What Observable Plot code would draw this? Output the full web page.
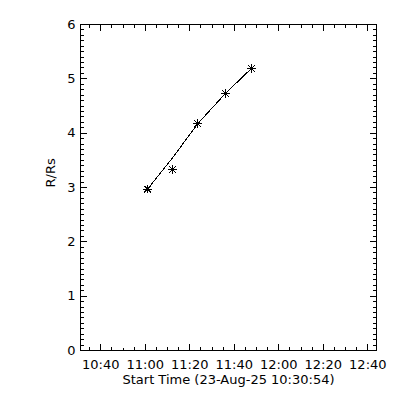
<!DOCTYPE html>
<html>
<head>
<meta charset="utf-8">
<script src="https://cdn.jsdelivr.net/npm/d3@7"></script>
<script src="https://cdn.jsdelivr.net/npm/@observablehq/plot@0.6"></script>
<style>
  html, body { margin: 0; padding: 0; background: white; }
  #chart { width: 400px; height: 400px; }
</style>
</head>
<body>
<div id="chart"></div>
<script>
// ---- data ----
const day = "2025-08-23";
const startTime = "10:30:54";
const endTime = "12:43:54";
const times = ["11:01:00", "11:12:20", "11:23:30", "11:36:00", "11:47:40"];
const heights = [2.97, 3.33, 4.18, 4.73, 5.19];      // R/Rs (asterisks)
const fitHeights = [2.97, 3.55, 4.17, 4.73, 5.19];   // fitted line
const xTickLabels = ["10:40", "11:00", "11:20", "11:40", "12:00", "12:20", "12:40"];
const yTicks = [0, 1, 2, 3, 4, 5, 6];
const xTitle = "Start Time (23-Aug-25 10:30:54)";
const yTitle = "R/Rs";

// ---- build ----
const toDate = t => new Date(`${day}T${t}Z`);
const x0 = toDate(startTime), x1 = toDate(endTime);
const points = times.map((t, i) => ({t: toDate(t), r: heights[i], f: fitHeights[i]}));
const xMajor = xTickLabels.map(toDate);
const xMinor = d3.utcMinute.every(5).range(x0, x1);
const yMinor = d3.range(0, 60.5, 1).map(v => v / 10);
const fmt = d3.utcFormat("%H:%M");
const crisp = "crispEdges";

// IDL style asterisk (psym=2)
const asterisk = {
  draw(ctx, size) {
    const s = Math.sqrt(size / Math.PI);
    const d = s * 0.75;
    ctx.moveTo(-s, 0); ctx.lineTo(s, 0);
    ctx.moveTo(0, -s); ctx.lineTo(0, s);
    ctx.moveTo(-d, -d); ctx.lineTo(d, d);
    ctx.moveTo(-d, d); ctx.lineTo(d, -d);
  }
};

// inward tick shapes for Plot.vector
const shapeUp = {draw(c, l) { c.moveTo(0, 0); c.lineTo(0, -l); }};
const shapeDown = {draw(c, l) { c.moveTo(0, 0); c.lineTo(0, l); }};
const shapeRight = {draw(c, l) { c.moveTo(0, 0); c.lineTo(l, 0); }};
const shapeLeft = {draw(c, l) { c.moveTo(0, 0); c.lineTo(-l, 0); }};
const ticksX = (data, edge, len) => Plot.vector(data, {
  x: d => d, frameAnchor: edge, length: len, anchor: "start", rotate: 0,
  shape: edge === "bottom" ? shapeUp : shapeDown, stroke: "black", strokeWidth: 1, shapeRendering: crisp
});
const ticksY = (data, edge, len) => Plot.vector(data, {
  y: d => d, frameAnchor: edge, length: len, anchor: "start", rotate: 0,
  shape: edge === "left" ? shapeRight : shapeLeft, stroke: "black", strokeWidth: 1, shapeRendering: crisp
});

const chart = Plot.plot({
  width: 400,
  height: 400,
  marginLeft: 80,
  marginRight: 24,
  marginTop: 24,
  marginBottom: 50,
  style: {fontFamily: "DejaVu Sans", fontSize: "13px", background: "white", color: "black"},
  x: {type: "utc", domain: [x0, x1]},
  y: {domain: [0, 6]},
  marks: [
    Plot.frame({stroke: "black", shapeRendering: crisp}),
    ticksX(xMinor, "bottom", 3),
    ticksX(xMinor, "top", 3),
    ticksY(yMinor, "left", 3),
    ticksY(yMinor, "right", 3),
    ticksX(xMajor, "bottom", 6),
    ticksX(xMajor, "top", 6),
    ticksY(yTicks, "left", 6),
    ticksY(yTicks, "right", 6),
    // tick labels
    Plot.axisX(xMajor, {anchor: "bottom", tickSize: 0, tickPadding: 9, tickFormat: fmt, label: null, fontSize: 13}),
    Plot.axisY(yTicks, {anchor: "left", tickSize: 0, tickPadding: 5, tickFormat: d => String(d), label: null, fontSize: 13}),
    // titles
    Plot.text([xTitle], {frameAnchor: "bottom", dy: 33, fontSize: 13, text: d => d}),
    Plot.text([yTitle], {frameAnchor: "left", dx: -30, rotate: -90, fontSize: 13, text: d => d}),
    // fit line and points
    Plot.line(points, {x: "t", y: "f", stroke: "black", strokeWidth: 1, shapeRendering: crisp}),
    Plot.dot(points, {x: "t", y: "r", symbol: asterisk, r: 4.3, stroke: "black", strokeWidth: 1, fill: "none", shapeRendering: crisp})
  ]
});
document.getElementById("chart").appendChild(chart);
</script>
</body>
</html>
